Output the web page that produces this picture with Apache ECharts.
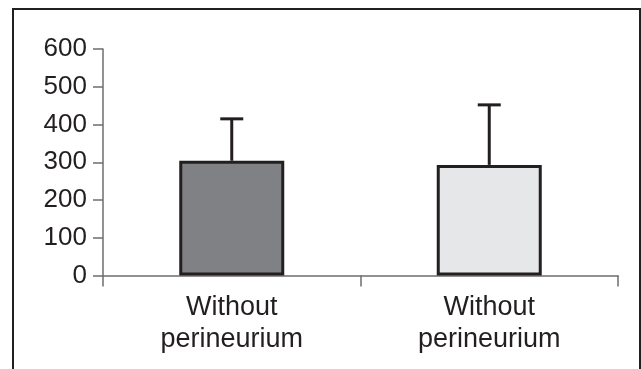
<!DOCTYPE html>
<html>
<head>
<meta charset="utf-8">
<script src="https://cdn.jsdelivr.net/npm/echarts@6/dist/echarts.min.js"></script>
<style>html,body{margin:0;padding:0;background:#fff}#c{width:641px;height:369px}</style>
</head>
<body>
<div id="c"></div>
<script>
var categories = ['Without\nperineurium', 'Without\nperineurium'];
var means = [304, 293];
var errorTops = [415, 452];
var yTicks = [0, 100, 200, 300, 400, 500, 600];
var barColors = ['#808184', '#e6e7e8'];

var chart = echarts.init(document.getElementById('c'));
var axisColor = '#6d6e71';
var textColor = '#231f20';
var font = '"Liberation Sans", Arial, sans-serif';

chart.setOption({
  animation: false,
  grid: { left: 103, right: 23, top: 49, bottom: 93.5 },
  graphic: [{
    type: 'rect',
    shape: { x: 13, y: 9, width: 627, height: 420 },
    style: { fill: 'none', stroke: '#231f20', lineWidth: 2 },
    silent: true
  }],
  xAxis: {
    type: 'category',
    data: categories,
    axisLine: { lineStyle: { color: axisColor, width: 1.5 } },
    axisTick: { show: true, length: 11, lineStyle: { color: axisColor, width: 1.5 } },
    axisLabel: { color: textColor, fontSize: 27, fontFamily: font, lineHeight: 32, margin: 16 }
  },
  yAxis: {
    type: 'value',
    min: 0, max: 600, interval: 100,
    axisLine: { show: true, lineStyle: { color: axisColor, width: 1.5 } },
    axisTick: { show: true, length: 10, lineStyle: { color: axisColor, width: 1.5 } },
    splitLine: { show: false },
    axisLabel: {
      color: textColor, fontSize: 26, fontFamily: font, margin: 16,
      formatter: function (v) { return yTicks.indexOf(v) >= 0 ? String(v) : ''; }
    }
  },
  series: [{
    type: 'bar',
    data: means.map(function (v, i) {
      return { value: v, itemStyle: { color: barColors[i] } };
    }),
    barWidth: 105,
    itemStyle: { borderColor: '#231f20', borderWidth: 3 },
    z: 3
  }, {
    type: 'custom',
    data: means.map(function (v, i) { return [i, v, errorTops[i]]; }),
    renderItem: function (params, api) {
      var x = api.value(0);
      var lo = api.coord([x, api.value(1)]);
      var hi = api.coord([x, api.value(2)]);
      var half = 11.5;
      var st = { stroke: '#231f20', lineWidth: 3 };
      return {
        type: 'group',
        children: [
          { type: 'line', shape: { x1: lo[0], y1: lo[1], x2: hi[0], y2: hi[1] }, style: st },
          { type: 'line', shape: { x1: hi[0] - half, y1: hi[1], x2: hi[0] + half, y2: hi[1] }, style: st }
        ]
      };
    },
    z: 2
  }]
});
</script>
</body>
</html>
